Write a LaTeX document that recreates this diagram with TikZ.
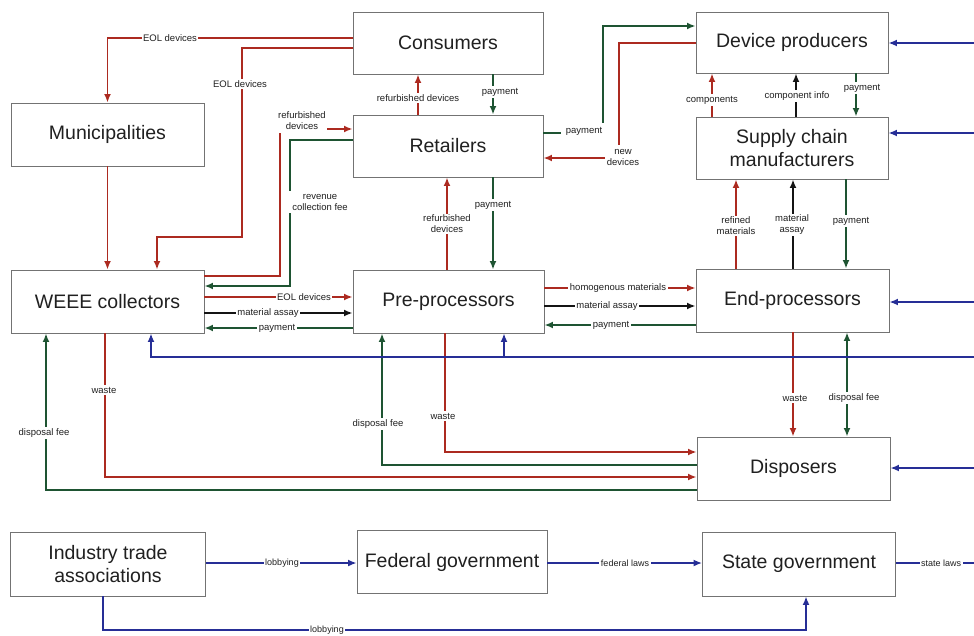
\documentclass[tikz,border=0pt]{standalone}
\usepackage{fontspec}
\setmainfont{Liberation Sans}
\usetikzlibrary{arrows.meta}
\definecolor{flowred}{RGB}{172,42,32}
\definecolor{flowgreen}{RGB}{30,84,50}
\definecolor{flowblue}{RGB}{38,46,150}
\definecolor{flowblack}{RGB}{20,20,20}
\definecolor{boxline}{RGB}{115,115,115}
\definecolor{txt}{RGB}{32,32,32}

\begin{document}
\begin{tikzpicture}[x=1pt,y=-1pt,
  actor/.style={draw=boxline, line width=0.9pt, fill=white, text=txt, align=center,
    font=\fontsize{19.5}{23}\selectfont, inner sep=0pt},
  tip/.style={-{Latex[length=8.5pt,width=7pt]}},
  matflow/.style={draw=flowred, line width=1.9pt, tip},
  payflow/.style={draw=flowgreen, line width=1.9pt, tip},
  infoflow/.style={draw=flowblack, line width=1.9pt, tip},
  lawflow/.style={draw=flowblue, line width=1.6pt, tip},
  lawline/.style={draw=flowblue, line width=1.6pt},
  lab/.style={fill=white, text=txt, font=\fontsize{9.5}{11}\selectfont, inner sep=1.5pt, align=center},
  govlab/.style={fill=white, text=txt, font=\fontsize{9}{10}\selectfont, inner sep=1.5pt},
]
\useasboundingbox (0,0) rectangle (974,635);

% actors
\node[actor, minimum width=190pt, minimum height=62pt] (cons) at (448,43) {Consumers};
\node[actor, minimum width=190pt, minimum height=62pt] (ret) at (448,146) {Retailers};
\node[actor, minimum width=192pt, minimum height=61pt] (dev) at (792,42.5) {Device producers};
\node[actor, minimum width=192pt, minimum height=62pt] (sup) at (792,148) {Supply chain\\manufacturers};
\node[actor, minimum width=193pt, minimum height=63pt] (mun) at (107.5,134.5) {Municipalities};
\node[actor, minimum width=193pt, minimum height=63pt] (weee) at (107.5,301.5) {WEEE collectors};
\node[actor, minimum width=191pt, minimum height=63pt] (pre) at (448.5,301.5) {Pre-processors};
\node[actor, minimum width=193pt, minimum height=63pt] (endp) at (792.5,300.5) {End-processors};
\node[actor, minimum width=193pt, minimum height=63pt] (disp) at (793.5,468.5) {Disposers};
\node[actor, minimum width=195pt, minimum height=64pt] (ita) at (108,564) {Industry trade\\associations};
\node[actor, minimum width=190pt, minimum height=63pt] (fed) at (452,562) {Federal government};
\node[actor, minimum width=193pt, minimum height=64pt] (state) at (799,564) {State government};

% end-of-life devices from consumers
\draw[matflow] (cons.west |- 0,38) -| (mun.north);
\draw[matflow] (cons.west |- 0,48) -- (242,48) -- (242,237) -- (157,237) -- (weee.north -| 157,0);
\draw[matflow] (mun.south) -- (weee.north -| mun.south);

% collectors and retailers
\draw[matflow] (weee.east |- 0,276) -- (280,276) -- (280,129) -- (ret.west |- 0,129);
\draw[payflow] (ret.west |- 0,140) -- (290,140) -- (290,286) -- (weee.east |- 0,286);

% consumers and retailers
\draw[matflow] (ret.north -| 418,0) -- (cons.south -| 418,0);
\draw[payflow] (cons.south -| 493,0) -- (ret.north -| 493,0);

% retailers and device producers
\draw[payflow] (ret.east |- 0,133) -- (603,133) -- (603,26) -- (dev.west |- 0,26);
\draw[matflow] (dev.west |- 0,43) -- (619,43) -- (619,158) -- (ret.east |- 0,158);

% supply chain and device producers
\draw[matflow] (sup.north -| 712,0) -- (dev.south -| 712,0);
\draw[infoflow] (sup.north -| 796,0) -- (dev.south -| 796,0);
\draw[payflow] (dev.south -| 856,0) -- (sup.north -| 856,0);

% end-processors and supply chain
\draw[matflow] (endp.north -| 736,0) -- (sup.south -| 736,0);
\draw[infoflow] (endp.north -| 793,0) -- (sup.south -| 793,0);
\draw[payflow] (sup.south -| 846,0) -- (endp.north -| 846,0);

% pre-processors and retailers
\draw[matflow] (pre.north -| 447,0) -- (ret.south -| 447,0);
\draw[payflow] (ret.south -| 493,0) -- (pre.north -| 493,0);

% collectors and pre-processors
\draw[matflow] (weee.east |- 0,297) -- (pre.west |- 0,297);
\draw[infoflow] (weee.east |- 0,313) -- (pre.west |- 0,313);
\draw[payflow] (pre.west |- 0,328) -- (weee.east |- 0,328);

% pre-processors and end-processors
\draw[matflow] (pre.east |- 0,288) -- (endp.west |- 0,288);
\draw[infoflow] (pre.east |- 0,306) -- (endp.west |- 0,306);
\draw[payflow] (endp.west |- 0,325) -- (pre.east |- 0,325);

% disposal flows
\draw[matflow] (endp.south -| 793,0) -- (disp.north -| 793,0);
\draw[payflow, {Latex[length=8.5pt,width=7pt]}-{Latex[length=8.5pt,width=7pt]}] (endp.south -| 847,0) -- (disp.north -| 847,0);
\draw[matflow] (pre.south -| 445,0) -- (445,452) -- (disp.west |- 0,452);
\draw[payflow] (disp.west |- 0,465) -- (382,465) -- (pre.south -| 382,0);
\draw[matflow] (weee.south -| 105,0) -- (105,477) -- (disp.west |- 0,477);
\draw[payflow] (disp.west |- 0,490) -- (46,490) -- (weee.south -| 46,0);

% regulation entering from the right
\coordinate (rdev) at (974,43);
\coordinate (rsup) at (974,133);
\coordinate (rend) at (974,302);
\coordinate (rcol) at (974,357);
\coordinate (bpre) at (504,357);
\coordinate (rdis) at (974,468);
\coordinate (rstate) at (974,563);
\draw[lawflow] (rdev) -- (dev.east |- rdev);
\draw[lawflow] (rsup) -- (sup.east |- rsup);
\draw[lawflow] (rend) -- (endp.east |- rend);
\draw[lawflow] (rcol) -- (151,357) -- (weee.south -| 151,0);
\draw[lawflow] (bpre) -- (pre.south -| bpre);
\draw[lawflow] (rdis) -- (disp.east |- rdis);
\draw[lawline] (state.east |- rstate) -- (rstate);

% policy chain
\draw[lawflow] (ita.east |- 0,563) -- (fed.west |- 0,563);
\draw[lawflow] (fed.east |- 0,563) -- (state.west |- 0,563);
\draw[lawflow] (ita.south -| 103,0) -- (103,630) -- (806,630) -- (state.south -| 806,0);

% flow labels
\node[lab] (l1) at (170,38) {EOL devices};
\node[lab] (l2) at (240,84) {EOL devices};
\node[lab, inner ysep=3pt] (l3) at (302,121) {refurbished\\devices};
\node[lab, inner xsep=4pt, inner ysep=3pt] (l4) at (320,202) {revenue\\collection fee};
\node[lab] (l5) at (418,98) {refurbished devices};
\node[lab] (l6) at (500,92) {payment};
\node[lab, inner xsep=5pt, inner ysep=4pt] (l7) at (584,131) {payment};
\node[lab, inner ysep=4pt] (l8) at (623,157) {new\\devices};
\node[lab] (l9) at (712,100) {components};
\node[lab] (l10) at (797,96) {component info};
\node[lab] (l11) at (862,88) {payment};
\node[lab] (l12) at (736,226) {refined\\materials};
\node[lab] (l13) at (792,225) {material\\assay};
\node[lab] (l14) at (851,221) {payment};
\node[lab] (l15) at (447,224) {refurbished\\devices};
\node[lab] (l16) at (493,205) {payment};
\node[lab] (l17) at (304,297) {EOL devices};
\node[lab] (l18) at (268,313) {material assay};
\node[lab] (l19) at (277,328) {payment};
\node[lab] (l20) at (618,288) {homogenous materials};
\node[lab] (l21) at (607,306) {material assay};
\node[lab] (l22) at (611,325) {payment};
\node[lab] (l23) at (795,398) {waste};
\node[lab] (l24) at (854,398) {disposal fee};
\node[lab] (l25) at (443,416) {waste};
\node[lab] (l26) at (378,424) {disposal fee};
\node[lab] (l27) at (104,390) {waste};
\node[lab] (l28) at (44,433) {disposal fee};
\node[govlab] (l29) at (282,563) {lobbying};
\node[govlab] (l30) at (625,563) {federal laws};
\node[govlab] (l31) at (941,563) {state laws};
\node[govlab] (l32) at (327,630) {lobbying};
\end{tikzpicture}
\end{document}
